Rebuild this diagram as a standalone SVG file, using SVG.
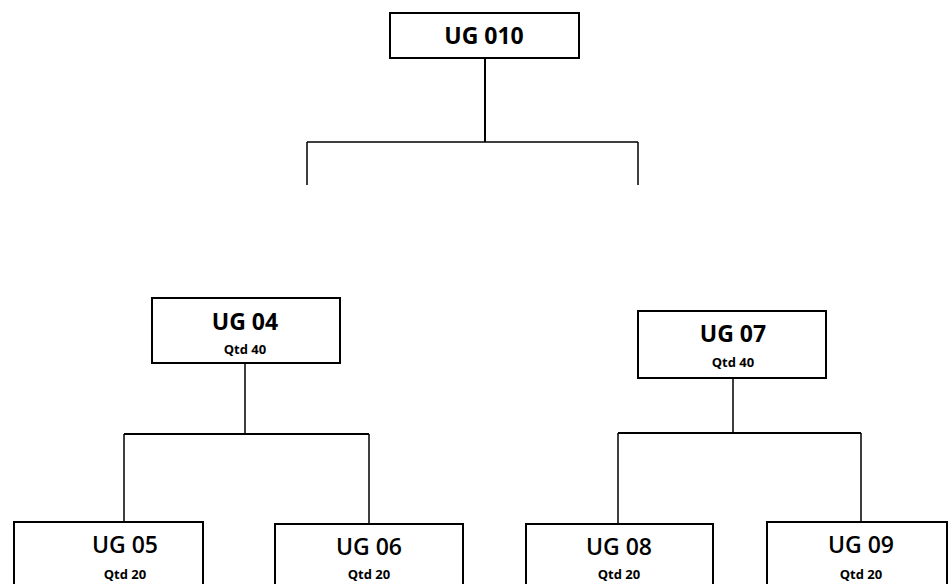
<svg xmlns="http://www.w3.org/2000/svg" width="948" height="584" viewBox="0 0 948 584">
<style>
.box{fill:#fff;stroke:#000;stroke-width:2}
.t{font-family:"Open Sans","Liberation Sans",sans-serif;font-weight:700;fill:#000;text-anchor:middle}
.big{font-size:23px}
.top{font-size:23px}
.bot{font-size:23px;font-weight:600}
.small{font-size:13px}
.ln{fill:none;stroke:#000;stroke-width:2}
.lt{fill:none;stroke:#000;stroke-width:1.5}
</style>
<rect width="948" height="584" fill="#fff"/>
<g id="connectors">
<path class="ln" d="M485 58V142" />
<path class="lt" d="M307 142H638M307 142V185M638 142V185" />
<path class="lt" d="M245 363V434M124 434V522M369 434V524M618 433V524M861 433V522M733 378V433" />
<path class="ln" d="M124 434H369M618 433H861" />
</g>
<g id="ug010">
<rect class="box" x="390" y="13" width="189" height="45"/>
<text class="t top" x="484" y="44">UG 010</text>
</g>
<g id="ug04">
<rect class="box" x="152" y="298" width="188" height="65"/>
<text class="t big" x="245" y="330">UG 04</text>
<text class="t small" x="245" y="354">Qtd 40</text>
</g>
<g id="ug07">
<rect class="box" x="638" y="311" width="188" height="67"/>
<text class="t big" x="733" y="342">UG 07</text>
<text class="t small" x="733" y="367">Qtd 40</text>
</g>
<g id="ug05">
<rect class="box" x="14" y="522" width="189" height="70"/>
<text class="t bot" x="125" y="553">UG 05</text>
<text class="t small" x="125" y="579">Qtd 20</text>
</g>
<g id="ug06">
<rect class="box" x="275" y="524" width="188" height="70"/>
<text class="t bot" x="369" y="555">UG 06</text>
<text class="t small" x="369" y="579">Qtd 20</text>
</g>
<g id="ug08">
<rect class="box" x="526" y="524" width="187" height="70"/>
<text class="t bot" x="619" y="555">UG 08</text>
<text class="t small" x="619" y="579">Qtd 20</text>
</g>
<g id="ug09">
<rect class="box" x="767" y="522" width="180" height="70"/>
<text class="t bot" x="861" y="553">UG 09</text>
<text class="t small" x="861" y="579">Qtd 20</text>
</g>
</svg>
